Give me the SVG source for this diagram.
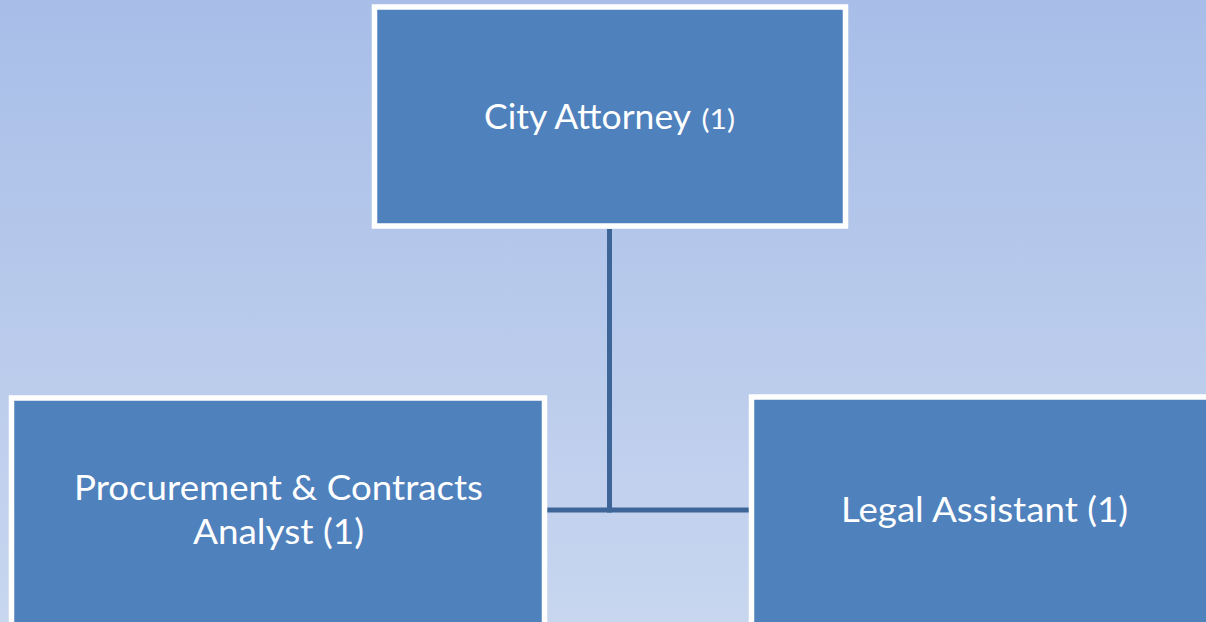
<svg xmlns="http://www.w3.org/2000/svg" width="1206" height="622" viewBox="0 0 1206 622">
  <defs>
    <linearGradient id="bg" x1="0" y1="0" x2="0" y2="1">
      <stop offset="0" stop-color="#a8bee8"/>
      <stop offset="1" stop-color="#c8d6ef"/>
    </linearGradient>
  </defs>
  <style>
    .box { fill: #4f81bd; stroke: #ffffff; stroke-width: 5.5; }
    .lbl { font-family: Lato, "Open Sans", "Liberation Sans", sans-serif; fill: #ffffff; font-size: 35px; }
    .small { font-size: 27px; }
    .conn { stroke: #3d6598; stroke-width: 5; fill: none; }
  </style>
  <rect x="0" y="0" width="1206" height="622" fill="url(#bg)"/>
  <g id="connectors">
    <line class="conn" x1="609.5" y1="229" x2="609.5" y2="512.5"/>
    <line class="conn" x1="547" y1="510" x2="749" y2="510"/>
  </g>
  <g id="city-attorney">
    <rect class="box" x="374.5" y="7" width="471" height="219"/>
    <text class="lbl" y="128.5"><tspan x="484" textLength="207" lengthAdjust="spacingAndGlyphs">City Attorney</tspan><tspan class="small" x="701.5" textLength="33.5" lengthAdjust="spacingAndGlyphs">(1)</tspan></text>
  </g>
  <g id="procurement-analyst">
    <rect class="box" x="11.5" y="398" width="533" height="240"/>
    <text class="lbl" x="74" y="500" textLength="409" lengthAdjust="spacingAndGlyphs">Procurement &amp; Contracts</text>
    <text class="lbl" x="193" y="544" textLength="171" lengthAdjust="spacingAndGlyphs">Analyst (1)</text>
  </g>
  <g id="legal-assistant">
    <rect class="box" x="751.5" y="397" width="470" height="240"/>
    <text class="lbl" x="841" y="521.5" textLength="287" lengthAdjust="spacingAndGlyphs">Legal Assistant (1)</text>
  </g>
</svg>
